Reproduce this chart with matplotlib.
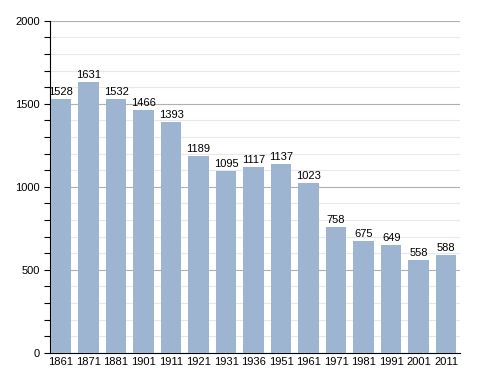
import numpy as np
import matplotlib.pyplot as plt
from matplotlib.ticker import MultipleLocator

plt.rcParams['font.family'] = ['Liberation Sans', 'DejaVu Sans']

years = ['1861', '1871', '1881', '1901', '1911', '1921', '1931', '1936',
         '1951', '1961', '1971', '1981', '1991', '2001', '2011']
population = [1528, 1631, 1532, 1466, 1393, 1189, 1095, 1117, 1137, 1023,
              758, 675, 649, 558, 588]

fig = plt.figure(figsize=(4.88, 3.73), dpi=100)
ax = fig.add_axes([0.1025, 0.054, 0.84, 0.89])

x = np.arange(len(years))
ax.bar(x, population, width=0.74, color='#9db5d1', zorder=3)

# valeurs au-dessus des barres
for xi, v in zip(x, population):
    ax.text(xi, v + 12, str(v), ha='center', va='bottom', fontsize=8, zorder=4)

ax.set_xlim(-0.4, 14.5)
ax.set_ylim(0, 2000)
ax.set_xticks(x)
ax.set_xticklabels(years, fontsize=8)
ax.yaxis.set_major_locator(MultipleLocator(500))
ax.yaxis.set_minor_locator(MultipleLocator(100))
ax.tick_params(axis='y', which='both', labelsize=8, length=4, width=0.8)
ax.tick_params(axis='x', length=0, pad=3)

ax.grid(axis='y', which='major', color='#b0b0b0', lw=0.8, zorder=0)
ax.grid(axis='y', which='minor', color='#e8e8e8', lw=0.8, zorder=0)

for s in ['top', 'right']:
    ax.spines[s].set_visible(False)

plt.savefig('out.png', dpi=100)
